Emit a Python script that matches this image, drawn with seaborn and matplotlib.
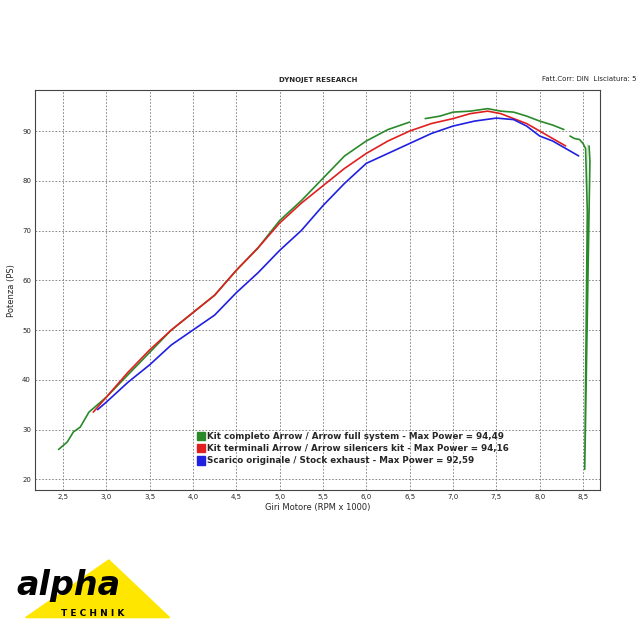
import matplotlib
matplotlib.use("Agg")
import matplotlib.pyplot as plt
import seaborn as sns
import pandas as pd
from matplotlib.patches import Polygon

# --- values (RPM x1000, PS) ---
green_rpm = [2.45, 2.55, 2.62, 2.7, 2.8, 2.9, 3.0, 3.25, 3.5, 3.75, 4.0, 4.25, 4.5, 4.75, 5.0, 5.25, 5.5, 5.75, 6.0, 6.25, 6.5]
green_ps = [26, 27.5, 29.5, 30.5, 33.5, 35, 36.5, 41, 45.5, 50, 53.5, 57, 62, 66.5, 72, 76, 80.5, 85, 88, 90.3, 91.8]
green2_rpm = [6.68, 6.85, 7.0, 7.2, 7.4, 7.55, 7.7, 7.85, 8.0, 8.15, 8.28]
green2_ps = [92.5, 93, 93.8, 94, 94.5, 94, 93.8, 93, 92, 91.2, 90.3]
green3_rpm = [8.35, 8.4, 8.46, 8.5, 8.53, 8.55, 8.52, 8.55, 8.58, 8.57]
green3_ps = [89, 88.5, 88.3, 87.5, 86.5, 87.5, 22, 60, 84, 87]
red_rpm = [2.85, 3.0, 3.25, 3.5, 3.75, 4.0, 4.25, 4.5, 4.75, 5.0, 5.25, 5.5, 5.75, 6.0, 6.25, 6.5, 6.75, 7.0, 7.2, 7.4, 7.55, 7.7, 7.85, 8.0, 8.15, 8.3]
red_ps = [33.5, 36.5, 41.5, 46, 50, 53.5, 57, 62, 66.5, 71.5, 75.5, 79, 82.5, 85.5, 88, 90, 91.5, 92.5, 93.5, 94, 93.5, 92.5, 91.5, 90, 88.5, 87]
blue_rpm = [2.9, 3.0, 3.25, 3.5, 3.75, 4.0, 4.25, 4.5, 4.75, 5.0, 5.25, 5.5, 5.75, 6.0, 6.25, 6.5, 6.75, 7.0, 7.25, 7.5, 7.7, 7.85, 8.0, 8.15, 8.3, 8.45]
blue_ps = [34, 35.5, 39.5, 43, 47, 50, 53, 57.5, 61.5, 66, 70, 75, 79.5, 83.5, 85.5, 87.5, 89.5, 91, 92, 92.6, 92.3, 91, 89, 88, 86.5, 85]

labels = ["Kit completo Arrow / Arrow full system - Max Power = 94,49",
          "Kit terminali Arrow / Arrow silencers kit - Max Power = 94,16",
          "Scarico originale / Stock exhaust - Max Power = 92,59"]
colors = ["#2a8a2a", "#e02020", "#2020e0"]
xticks = [2.5, 3.0, 3.5, 4.0, 4.5, 5.0, 5.5, 6.0, 6.5, 7.0, 7.5, 8.0, 8.5]
yticks = [20, 30, 40, 50, 60, 70, 80, 90]

sns.set_style("white")
plt.rcParams['font.family'] = ['DejaVu Sans']
fig = plt.figure(figsize=(6.4, 6.4), dpi=100)
ax = fig.add_axes([0.055, 0.234, 0.883, 0.625])

for xs, ys in [(green_rpm, green_ps), (green2_rpm, green2_ps), (green3_rpm, green3_ps)]:
    sns.lineplot(data=pd.DataFrame({"x": xs, "y": ys}), x="x", y="y", sort=False,
                 color=colors[0], lw=1.2, ax=ax)
sns.lineplot(x=red_rpm, y=red_ps, color=colors[1], lw=1.2, ax=ax)
sns.lineplot(x=blue_rpm, y=blue_ps, color=colors[2], lw=1.2, ax=ax)

ax.set_xlim(2.18, 8.7)
ax.set_ylim(17.8, 98.2)
ax.set_xticks(xticks)
ax.set_xticklabels([f"{t:.1f}".replace(".", ",") for t in xticks], fontsize=5)
ax.set_yticks(yticks)
ax.set_yticklabels([str(t) for t in yticks], fontsize=5)
ax.tick_params(length=0, pad=3)
ax.grid(True, ls=(0, (2, 2)), color="#777777", lw=0.6)
for s in ax.spines.values():
    s.set_color("#444444")
    s.set_linewidth(0.8)
ax.set_xlabel("Giri Motore (RPM x 1000)", fontsize=6, labelpad=2)
ax.set_ylabel("Potenza (PS)", fontsize=6, labelpad=4)
ax.set_title("DYNOJET RESEARCH", fontsize=5, fontweight="bold", pad=6)
fig.text(0.995, 0.873, "Fatt.Corr: DIN  Lisciatura: 5", fontsize=5, ha="right")

# legend block
for i, (lab, c) in enumerate(zip(labels, colors)):
    y = 0.318 - i * 0.019
    fig.patches.append(plt.Rectangle((0.308, y - 0.006), 0.012, 0.013, color=c, transform=fig.transFigure))
    fig.text(0.323, y, lab, fontsize=6.3, fontweight="bold", va="center")

# logo
fig.patches.append(Polygon([[0.04, 0.035], [0.265, 0.035], [0.17, 0.125]], closed=True,
                           color="#ffe600", transform=fig.transFigure))
fig.text(0.025, 0.07, "alpha", fontsize=24, fontweight="bold", fontstyle="italic", color="black")
fig.text(0.095, 0.038, "T E C H N I K", fontsize=6.5, fontweight="bold", color="black")

fig.savefig("out.png", dpi=100)
